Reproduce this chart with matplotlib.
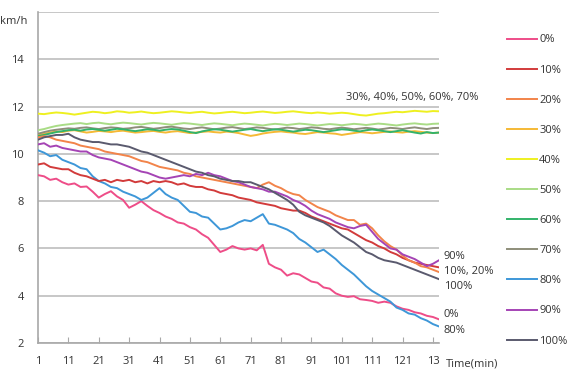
import numpy as np
import matplotlib
matplotlib.use("Agg")
import matplotlib.pyplot as plt

plt.rcParams['font.family'] = ['Open Sans', 'DejaVu Sans']

minutes = list(range(1, 134, 2))  # 67 samples, every 2 minutes

s0 = [9.10, 9.05, 8.90, 8.95, 8.80, 8.70, 8.75, 8.60, 8.62, 8.40,
      8.15, 8.30, 8.42, 8.20, 8.05, 7.72, 7.85, 8.00, 7.80, 7.62,
      7.50, 7.35, 7.25, 7.10, 7.05, 6.90, 6.80, 6.60, 6.45, 6.15,
      5.85, 5.95, 6.10, 6.00, 5.95, 6.00, 5.92, 6.15, 5.35, 5.20,
      5.10, 4.85, 4.95, 4.90, 4.75, 4.60, 4.55, 4.35, 4.30, 4.10,
      4.00, 3.95, 3.98, 3.85, 3.82, 3.78, 3.70, 3.75, 3.70, 3.55,
      3.45, 3.40, 3.30, 3.25, 3.15, 3.10, 3.00]
s10 = [9.55, 9.60, 9.45, 9.40, 9.35, 9.35, 9.20, 9.10, 9.05, 8.95,
       8.85, 8.90, 8.80, 8.90, 8.85, 8.90, 8.80, 8.85, 8.75, 8.85,
       8.80, 8.85, 8.80, 8.70, 8.75, 8.65, 8.60, 8.60, 8.50, 8.45,
       8.35, 8.30, 8.25, 8.15, 8.10, 8.05, 7.95, 7.90, 7.85, 7.80,
       7.70, 7.65, 7.60, 7.60, 7.50, 7.35, 7.25, 7.15, 7.05, 6.95,
       6.85, 6.80, 6.65, 6.50, 6.35, 6.25, 6.10, 6.00, 5.85, 5.75,
       5.60, 5.50, 5.40, 5.35, 5.30, 5.25, 5.20]
s20 = [10.70, 10.75, 10.70, 10.60, 10.55, 10.50, 10.45, 10.35, 10.30, 10.25,
       10.20, 10.10, 10.05, 10.00, 9.95, 9.90, 9.80, 9.70, 9.65, 9.55,
       9.45, 9.40, 9.35, 9.30, 9.20, 9.15, 9.05, 9.00, 8.95, 8.90,
       8.85, 8.80, 8.75, 8.70, 8.65, 8.60, 8.55, 8.70, 8.80, 8.65,
       8.55, 8.40, 8.30, 8.25, 8.05, 7.90, 7.75, 7.65, 7.55, 7.40,
       7.30, 7.20, 7.20, 7.00, 7.05, 6.85, 6.55, 6.30, 6.10, 5.95,
       5.70, 5.50, 5.40, 5.25, 5.20, 5.10, 5.00]
s30 = [10.80, 10.85, 10.90, 10.95, 10.92, 10.98, 11.00, 10.95, 10.90, 10.93,
       10.97, 10.95, 10.92, 10.96, 10.98, 10.94, 10.90, 10.92, 10.95, 10.97,
       10.93, 10.90, 10.94, 10.96, 10.92, 10.88, 10.90, 10.93, 10.95, 10.92,
       10.90, 10.94, 10.92, 10.88, 10.82, 10.76, 10.80, 10.86, 10.90, 10.93,
       10.95, 10.92, 10.90, 10.86, 10.84, 10.88, 10.92, 10.90, 10.87, 10.85,
       10.80, 10.84, 10.88, 10.92, 10.90, 10.87, 10.90, 10.93, 10.95, 10.92,
       10.90, 10.94, 10.96, 10.93, 10.90, 10.88, 10.90]
s40 = [11.70, 11.68, 11.72, 11.75, 11.73, 11.70, 11.66, 11.70, 11.74, 11.78,
       11.76, 11.72, 11.75, 11.80, 11.78, 11.74, 11.76, 11.79, 11.75, 11.72,
       11.74, 11.77, 11.80, 11.78, 11.75, 11.73, 11.76, 11.78, 11.74, 11.71,
       11.73, 11.76, 11.78, 11.75, 11.72, 11.74, 11.77, 11.79, 11.76, 11.73,
       11.75, 11.78, 11.80, 11.77, 11.74, 11.72, 11.75, 11.73, 11.70, 11.72,
       11.74, 11.72, 11.68, 11.64, 11.62, 11.66, 11.70, 11.72, 11.75, 11.78,
       11.76, 11.79, 11.82, 11.80, 11.78, 11.81, 11.80]
s50 = [11.00, 11.05, 11.12, 11.18, 11.22, 11.25, 11.28, 11.30, 11.26, 11.30,
       11.32, 11.28, 11.25, 11.29, 11.32, 11.30, 11.27, 11.24, 11.28, 11.31,
       11.29, 11.26, 11.23, 11.27, 11.30, 11.28, 11.25, 11.22, 11.26, 11.29,
       11.27, 11.24, 11.21, 11.25, 11.28, 11.26, 11.23, 11.20, 11.24, 11.27,
       11.25, 11.22, 11.25, 11.28, 11.26, 11.23, 11.20, 11.23, 11.26, 11.24,
       11.21, 11.24, 11.27, 11.25, 11.22, 11.25, 11.28, 11.26, 11.23, 11.20,
       11.24, 11.27, 11.29, 11.26, 11.24, 11.27, 11.28]
s60 = [10.75, 10.80, 10.86, 10.92, 10.96, 11.00, 11.02, 10.98, 11.03, 11.05,
       11.02, 10.98, 11.02, 11.06, 11.04, 11.00, 10.96, 11.00, 11.04, 11.02,
       10.98, 11.02, 11.05, 11.03, 10.98, 10.92, 10.88, 10.95, 11.00, 11.04,
       11.02, 10.98, 10.94, 10.98, 11.02, 11.05, 11.00, 10.96, 11.00, 11.04,
       11.02, 10.98, 10.94, 10.98, 11.02, 11.00, 10.96, 10.92, 10.96, 11.00,
       11.04, 11.02, 10.98, 10.95, 11.00, 11.03, 11.00, 10.96, 10.92, 10.96,
       11.00, 10.95, 10.90, 10.86, 10.92, 10.88, 10.90]
s70 = [10.85, 10.92, 10.98, 11.02, 11.05, 11.08, 11.06, 11.10, 11.12, 11.08,
       11.05, 11.09, 11.12, 11.10, 11.06, 11.08, 11.12, 11.14, 11.10, 11.06,
       11.09, 11.13, 11.15, 11.11, 11.07, 11.05, 11.09, 11.12, 11.08, 11.04,
       11.07, 11.11, 11.13, 11.09, 11.05, 11.08, 11.12, 11.10, 11.06, 11.03,
       11.07, 11.11, 11.09, 11.05, 11.08, 11.12, 11.10, 11.06, 11.04, 11.08,
       11.11, 11.08, 11.04, 11.07, 11.10, 11.07, 11.03, 11.06, 11.10, 11.08,
       11.05, 11.09, 11.12, 11.08, 11.05, 11.09, 11.10]
s80 = [10.15, 10.05, 9.90, 9.95, 9.75, 9.65, 9.55, 9.40, 9.35, 9.05,
       8.85, 8.75, 8.60, 8.55, 8.40, 8.30, 8.20, 8.05, 8.15, 8.35,
       8.55, 8.30, 8.15, 8.05, 7.80, 7.55, 7.50, 7.35, 7.30, 7.05,
       6.80, 6.85, 6.95, 7.10, 7.20, 7.15, 7.30, 7.45, 7.05, 7.00,
       6.90, 6.80, 6.65, 6.40, 6.25, 6.05, 5.85, 5.95, 5.75, 5.55,
       5.30, 5.10, 4.90, 4.65, 4.40, 4.20, 4.05, 3.90, 3.75, 3.50,
       3.40, 3.25, 3.20, 3.05, 2.95, 2.80, 2.70]
s90 = [10.40, 10.45, 10.30, 10.35, 10.25, 10.20, 10.15, 10.10, 10.10, 9.95,
       9.85, 9.80, 9.75, 9.65, 9.55, 9.45, 9.35, 9.25, 9.20, 9.10,
       9.00, 8.95, 9.00, 9.05, 9.10, 9.05, 9.15, 9.10, 9.20, 9.10,
       9.05, 8.95, 8.85, 8.80, 8.70, 8.60, 8.55, 8.50, 8.40, 8.40,
       8.30, 8.20, 8.05, 7.95, 7.80, 7.60, 7.45, 7.35, 7.25, 7.10,
       7.00, 6.90, 6.85, 6.95, 7.00, 6.70, 6.40, 6.20, 6.00, 5.95,
       5.75, 5.65, 5.55, 5.40, 5.25, 5.35, 5.50]
s100 = [10.60, 10.70, 10.75, 10.80, 10.80, 10.85, 10.70, 10.60, 10.55, 10.50,
        10.50, 10.45, 10.40, 10.40, 10.35, 10.30, 10.20, 10.10, 10.05, 9.95,
        9.85, 9.75, 9.65, 9.55, 9.45, 9.35, 9.25, 9.20, 9.10, 9.05,
        8.95, 8.90, 8.85, 8.85, 8.80, 8.80, 8.70, 8.60, 8.50, 8.35,
        8.20, 8.05, 7.85, 7.55, 7.40, 7.30, 7.20, 7.10, 6.95, 6.75,
        6.55, 6.40, 6.25, 6.05, 5.85, 5.75, 5.60, 5.50, 5.45, 5.40,
        5.30, 5.20, 5.10, 5.00, 4.90, 4.80, 4.70]

series_names = ['0%', '10%', '20%', '30%', '40%', '50%', '60%', '70%', '80%', '90%', '100%']
series_values = [s0, s10, s20, s30, s40, s50, s60, s70, s80, s90, s100]
colors = ['#EE4D88', '#D23B3B', '#F2844A', '#F5B935', '#EEF020', '#A9DC86',
          '#33B36A', '#8E8E7A', '#3E97D8', '#A544B5', '#5A5A6E']

xtick_pos = [1, 11, 21, 31, 41, 51, 61, 71, 81, 91, 101, 111, 121, 131]
xtick_labels = ['1', '11', '21', '31', '41', '51', '61', '71', '81', '91', '101', '111', '121', '13']
ytick_pos = [2, 4, 6, 8, 10, 12, 14]

W, H = 574, 371
fig = plt.figure(figsize=(W / 100, H / 100), dpi=100)
ax = fig.add_axes([38 / W, 1 - 343 / H, (439 - 38) / W, (343 - 12) / H])

order = [3, 4, 5, 7, 6, 0, 8, 1, 2, 9, 10]
for i in order:
    ax.plot(minutes, series_values[i], color=colors[i], lw=1.4, label=series_names[i], zorder=3)

ax.set_xlim(1, 133)
ax.set_ylim(2, 16)
ax.set_yticks(ytick_pos + [16])
ax.set_yticklabels([str(v) for v in ytick_pos] + [''])
ax.set_xticks(xtick_pos)
ax.set_xticklabels(xtick_labels)
ax.grid(axis='y', color='#BDBDBD', lw=1.2)
ax.set_axisbelow(True)
for sp in ['top', 'right']:
    ax.spines[sp].set_visible(False)
for sp in ['left', 'bottom']:
    ax.spines[sp].set_color('#A8A8A8')
    ax.spines[sp].set_linewidth(1.2)
tc = '#333333'
ax.tick_params(axis='x', direction='in', length=4, color='#A8A8A8', pad=9,
               labelsize=8, labelcolor=tc)
ax.tick_params(axis='y', length=0, pad=10, labelsize=8, labelcolor=tc)

handles, labels = ax.get_legend_handles_labels()
hmap = dict(zip(labels, handles))
leg = fig.legend([hmap[n] for n in series_names], series_names,
                 loc='upper left', bbox_to_anchor=(503 / W, 1 - 30 / H),
                 frameon=False, fontsize=8, labelspacing=1.72,
                 handlelength=2.7, handletextpad=0.15, borderaxespad=0,
                 labelcolor=tc)

ax.text(102.3, 12.4, '30%, 40%, 50%, 60%, 70%', fontsize=8, color=tc, va='center', ha='left', clip_on=False)
ax.text(134.5, 5.65, '90%', fontsize=8, color=tc, va='center', ha='left', clip_on=False)
ax.text(134.5, 5.01, '10%, 20%', fontsize=8, color=tc, va='center', ha='left', clip_on=False)
ax.text(134.5, 4.38, '100%', fontsize=8, color=tc, va='center', ha='left', clip_on=False)
ax.text(134.5, 3.19, '0%', fontsize=8, color=tc, va='center', ha='left', clip_on=False)
ax.text(134.5, 2.51, '80%', fontsize=8, color=tc, va='center', ha='left', clip_on=False)

fig.text(0 / W, 1 - 22 / H, 'km/h', fontsize=8, color=tc, va='center', ha='left')
fig.text(446 / W, 1 - 364 / H, 'Time(min)', fontsize=8, color=tc, va='center', ha='left')

fig.savefig('out.png', dpi=100)
